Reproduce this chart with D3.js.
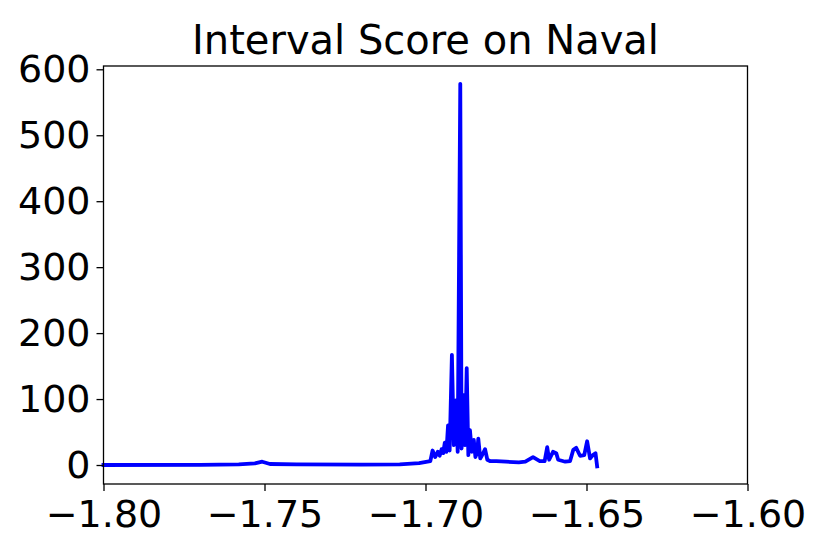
<!DOCTYPE html>
<html>
<head>
<meta charset="utf-8">
<script src="https://cdn.jsdelivr.net/npm/d3@7"></script>
<style>
    body { margin: 0; background: #fff; }
    text { font-family: "DejaVu Sans", sans-serif; fill: #000; }
</style>
</head>
<body>
<div id="chart"></div>
<script>
"use strict";

// chart values
const title = "Interval Score on Naval";
const xTicks = [-1.80, -1.75, -1.70, -1.65, -1.60];
const yTicks = [0, 100, 200, 300, 400, 500, 600];

const xs = [
    -1.800, -1.770, -1.758, -1.753, -1.7507, -1.7483, -1.740, -1.720, -1.708, -1.702,
    -1.6985, -1.6978, -1.6970, -1.6962, -1.6956, -1.6950, -1.6945, -1.6940, -1.6935, -1.6930,
    -1.6925, -1.6918, -1.6912, -1.6906, -1.6900, -1.6892, -1.6888, -1.6882, -1.6877, -1.6872,
    -1.6867, -1.6862, -1.6856, -1.6850, -1.6845, -1.6840, -1.6836, -1.6830, -1.6825, -1.6815,
    -1.6808, -1.6800, -1.678, -1.675, -1.671, -1.669, -1.6666, -1.6645, -1.663, -1.6622,
    -1.6616, -1.6604, -1.6594, -1.6588, -1.6566, -1.6551, -1.6541, -1.6532, -1.6520, -1.6507,
    -1.6498, -1.6489, -1.6480, -1.6472, -1.6467
];
const scores = [
    0, 0.3, 1, 2.5, 5, 1.5, 1, 0.5, 1, 3,
    6, 22, 12, 20, 14, 24, 18, 34, 20, 60,
    22, 167, 30, 98, 20, 578, 25, 106, 30, 147,
    15, 53, 20, 38, 12, 18, 40, 10, 14, 24,
    8, 6, 6, 5, 4, 5, 12, 6, 6, 27,
    8, 20, 18, 8, 5, 6, 23, 26, 14, 15,
    36, 10, 15, 18, -2
];

const msm = {
    width: 831,
    height: 554,
    left: 103.5,
    right: 747.5,
    top: 66,
    bottom: 484
};

window.onload = function () {
    let svg = d3.select("#chart")
        .append("svg")
        .attr("width", msm.width)
        .attr("height", msm.height);

    let xScale = d3.scaleLinear()
        .domain([-1.80, -1.60])
        .range([msm.left, msm.right]);

    let yScale = d3.scaleLinear()
        .domain([-28.8, 605])
        .range([msm.bottom, msm.top]);

    // the series line
    let points = xs.map((x, i) => [x, scores[i]]);
    let line = d3.line()
        .x(d => xScale(d[0]))
        .y(d => yScale(d[1]));

    svg.append("path")
        .datum(points)
        .attr("d", line)
        .attr("fill", "none")
        .attr("stroke", "#0000ff")
        .attr("stroke-width", 3.8)
        .attr("stroke-linejoin", "round")
        .attr("stroke-linecap", "square");

    // axes
    let xAxis = d3.axisBottom(xScale)
        .tickValues(xTicks)
        .tickFormat(d => d3.format(".2f")(d).replace("-", "\u2212"))
        .tickSize(7)
        .tickPadding(9);
    let gx = svg.append("g")
        .attr("transform", "translate(0," + msm.bottom + ")")
        .call(xAxis);

    let yAxis = d3.axisLeft(yScale)
        .tickValues(yTicks)
        .tickFormat(d3.format("d"))
        .tickSize(7)
        .tickPadding(6);
    let gy = svg.append("g")
        .attr("transform", "translate(" + msm.left + ",0)")
        .call(yAxis);

    [gx, gy].forEach(g => {
        g.select(".domain").remove();
        g.selectAll(".tick line").attr("stroke", "#000").attr("stroke-width", 1.3);
        g.selectAll(".tick text")
            .style("font-size", "38px")
            .style("font-family", "DejaVu Sans");
    });

    // frame around the plot area
    svg.append("rect")
        .attr("x", msm.left)
        .attr("y", msm.top)
        .attr("width", msm.right - msm.left)
        .attr("height", msm.bottom - msm.top)
        .attr("fill", "none")
        .attr("stroke", "#000")
        .attr("stroke-width", 1.3);

    // title
    svg.append("text")
        .attr("x", (msm.left + msm.right) / 2)
        .attr("y", msm.top - 12)
        .attr("text-anchor", "middle")
        .style("font-size", "40px")
        .text(title);
}
</script>
</body>
</html>
